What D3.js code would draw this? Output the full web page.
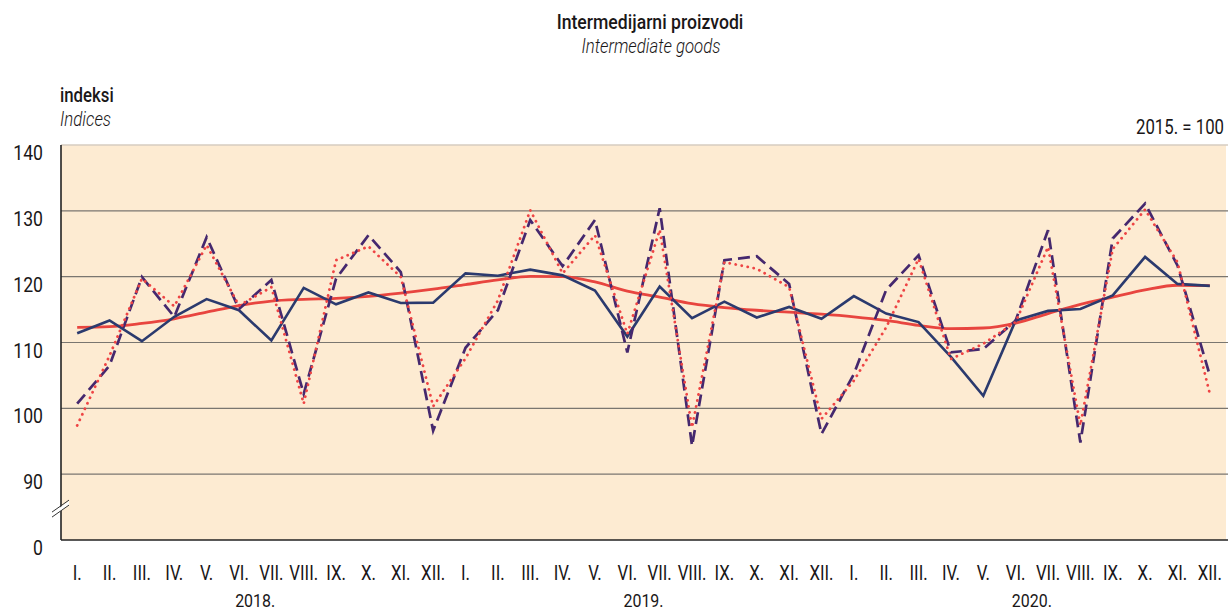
<!DOCTYPE html>
<html>
<head>
<meta charset="utf-8">
<script src="https://cdn.jsdelivr.net/npm/d3@7"></script>
<style>
  html, body { margin: 0; padding: 0; background: #ffffff; }
  svg { display: block; }
  text { font-family: Roboto, "Liberation Sans", sans-serif; fill: #1a1718; }
</style>
</head>
<body>
<svg id="chart" width="1229" height="613"></svg>
<script>
// ---- data ----
const years = ["2018.", "2019.", "2020."];
const months = ["I.", "II.", "III.", "IV.", "V.", "VI.", "VII.", "VIII.", "IX.", "X.", "XI.", "XII."];
const yTicks = [90, 100, 110, 120, 130, 140];
const yBreakValue = 80;       // shown as "0"
const yBreakLabel = "0";

// original index (dashed)
const original = [
  100.7, 106.5, 119.95, 113.9, 126.0, 115.1, 119.5, 102.2, 119.7, 126.3, 120.7, 96.6,
  109.2, 114.9, 128.6, 121.6, 128.6, 108.5, 130.4, 94.3, 122.5, 123.1, 118.9, 96.1,
  105.2, 118.0, 123.25, 108.5, 109.0, 113.35, 127.05, 94.8, 125.8, 131.1, 121.7, 105.0
];
// calendar adjusted (dotted)
const calendarAdj = [
  97.4, 108.0, 119.7, 115.5, 124.8, 115.6, 118.4, 100.7, 122.5, 124.6, 119.95, 100.3,
  107.6, 116.4, 130.1, 120.5, 126.3, 111.3, 127.1, 97.1, 122.2, 121.2, 118.4, 98.4,
  104.2, 112.3, 122.7, 107.5, 109.8, 113.1, 124.5, 97.4, 124.2, 130.2, 122.2, 102.2
];
// seasonally adjusted (solid navy)
const seasonalAdj = [
  111.4, 113.35, 110.2, 113.9, 116.6, 114.9, 110.3, 118.3, 115.8, 117.6, 116.0, 116.05,
  120.5, 120.15, 121.07, 120.2, 117.9, 110.9, 118.5, 113.7, 116.2, 113.8, 115.4, 113.6,
  117.05, 114.4, 113.1, 107.8, 101.9, 113.35, 114.8, 115.1, 117.15, 123.0, 118.9, 118.6
];
// trend (solid red)
const trend = [
  112.3, 112.4, 112.9, 113.6, 114.6, 115.6, 116.3, 116.55, 116.7, 117.0, 117.5, 118.1,
  118.8, 119.5, 120.05, 120.0, 119.2, 117.8, 116.9, 115.9, 115.3, 114.9, 114.6, 114.3,
  113.9, 113.35, 112.6, 112.1, 112.2, 112.95, 114.4, 115.8, 116.9, 118.0, 118.7, 118.65
];

// ---- layout ----
const svg = d3.select("#chart");
const pLeft = 61, pRight = 1226, pTop = 145, pBottom = 540;
const squeeze = 0.84;   // horizontal compression to mimic a condensed face

function label(parent, x, y, str, opts) {
  const o = Object.assign({ size: 20, weight: 400, style: "normal", anchor: "start" }, opts || {});
  return parent.append("text")
    .attr("transform", `translate(${x},${y}) scale(${squeeze},1)`)
    .attr("text-anchor", o.anchor)
    .attr("font-size", o.size)
    .attr("font-weight", o.weight)
    .attr("font-style", o.style)
    .text(str);
}

const keys = [];
years.forEach((yr, yi) => months.forEach((m, mi) => keys.push(yi * 12 + mi)));

const x = d3.scalePoint().domain(keys).range([pLeft, pRight]).padding(0.5);
const y = d3.scaleLinear().domain([yBreakValue, 140]).range([pBottom, pTop]);

// plot background
svg.append("rect")
  .attr("x", pLeft).attr("y", pTop)
  .attr("width", pRight - pLeft).attr("height", pBottom - pTop)
  .attr("fill", "#FDEBD2");

// top border (light)
svg.append("line")
  .attr("x1", pLeft).attr("x2", pRight + 2)
  .attr("y1", y(140)).attr("y2", y(140))
  .attr("stroke", "#d6ccc0").attr("stroke-width", 1.5);

// gridlines
svg.append("g").selectAll("line")
  .data(yTicks.filter(t => t < 140))
  .join("line")
  .attr("x1", pLeft).attr("x2", pRight + 2)
  .attr("y1", d => y(d)).attr("y2", d => y(d))
  .attr("stroke", "#7a7670").attr("stroke-width", 1.2);

// axes lines
svg.append("line")
  .attr("x1", pLeft).attr("x2", pLeft)
  .attr("y1", pTop).attr("y2", pBottom)
  .attr("stroke", "#222").attr("stroke-width", 1.6);
svg.append("line")
  .attr("x1", pLeft).attr("x2", pRight + 2)
  .attr("y1", pBottom).attr("y2", pBottom)
  .attr("stroke", "#222").attr("stroke-width", 1.6);

// axis break mark
const bx = pLeft, by = y(85);
svg.append("polygon")
  .attr("points", `${bx-9},${by+6} ${bx+8},${by-6} ${bx+8},${by-2} ${bx-9},${by+10}`)
  .attr("fill", "#ffffff");
svg.append("line").attr("x1", bx - 9).attr("y1", by + 5).attr("x2", bx + 8).attr("y2", by - 7)
  .attr("stroke", "#333").attr("stroke-width", 1);
svg.append("line").attr("x1", bx - 9).attr("y1", by + 10).attr("x2", bx + 8).attr("y2", by - 2)
  .attr("stroke", "#333").attr("stroke-width", 1);

// y tick labels
const gy = svg.append("g");
yTicks.forEach(t => label(gy, 43, y(t) + 15, String(t), { size: 21, anchor: "end" }));
label(gy, 43, y(yBreakValue) + 15, yBreakLabel, { size: 21, anchor: "end" });

// x month labels
const gx = svg.append("g");
keys.forEach(k => label(gx, x(k), 580, months[k % 12], { size: 20, anchor: "middle" }));

// year labels
years.forEach((yr, i) => label(gx, (x(i * 12) + x(i * 12 + 11)) / 2, 607, yr, { size: 19, anchor: "middle" }));

// titles
label(svg, 650, 29, "Intermedijarni proizvodi", { size: 21, weight: 500, anchor: "middle" });
label(svg, 651, 53, "Intermediate goods", { size: 20, weight: 300, style: "italic", anchor: "middle" });
label(svg, 60, 102, "indeksi", { size: 20, weight: 500 });
label(svg, 60, 126, "Indices", { size: 20, weight: 300, style: "italic" });
label(svg, 1224, 134, "2015. = 100", { size: 20, anchor: "end" });

// lines
const line = d3.line().x((d, i) => x(keys[i])).y(d => y(d));

svg.append("path").datum(trend)
  .attr("d", line.curve(d3.curveMonotoneX)).attr("fill", "none")
  .attr("stroke", "#E8453F").attr("stroke-width", 2.8)
  .attr("stroke-linejoin", "round");

line.curve(d3.curveLinear);

svg.append("path").datum(seasonalAdj)
  .attr("d", line).attr("fill", "none")
  .attr("stroke", "#2B3A6E").attr("stroke-width", 2.6)
  .attr("stroke-linejoin", "miter");

svg.append("path").datum(original)
  .attr("d", line).attr("fill", "none")
  .attr("stroke", "#45286E").attr("stroke-width", 2.7)
  .attr("stroke-dasharray", "12,6");

svg.append("path").datum(calendarAdj)
  .attr("d", line).attr("fill", "none")
  .attr("stroke", "#EE4444").attr("stroke-width", 2.8)
  .attr("stroke-linecap", "round")
  .attr("stroke-dasharray", "0.1,6");
</script>
</body>
</html>
